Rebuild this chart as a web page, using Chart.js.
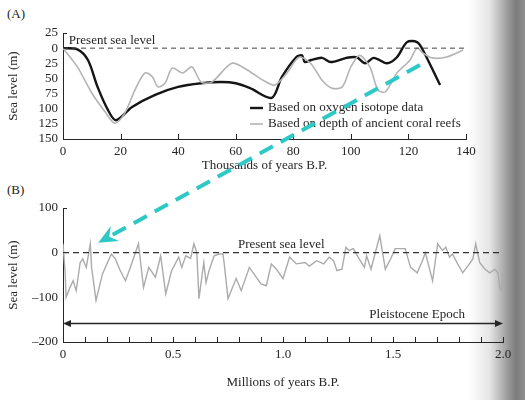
<!DOCTYPE html>
<html>
<head>
<meta charset="utf-8">
<script src="https://cdn.jsdelivr.net/npm/chart.js@4.4.1/dist/chart.umd.min.js"></script>
<style>
  body {
    margin: 0;
    width: 525px;
    height: 400px;
    position: relative;
    overflow: hidden;
    background: linear-gradient(to right, #fff 0, #fff 468px, #e4e4e4 490px, #9a9a9a 508px, #7c7c7c 516px, #8e8e8e 525px);
  }
  canvas { position: absolute; left: 0; }
  .tag { position: absolute; font: 13px "Liberation Serif", serif; color: #222; }
</style>
</head>
<body>
<div class="tag" style="left:7px;top:6px">(A)</div>
<div class="tag" style="left:7px;top:182px">(B)</div>
<canvas id="chartA" width="525" height="178" style="top:0"></canvas>
<canvas id="chartB" width="525" height="222" style="top:178px"></canvas>
<canvas id="overlay" width="525" height="400" style="top:0;pointer-events:none"></canvas>

<script>
// --- panel A: last 140 000 years (negative = below present level) ---
const isotopeAge   = [0, 5, 8.7, 12, 15.6, 18.4, 24, 32, 40, 48, 55, 60, 65, 72.5, 76, 81, 83, 84, 86, 90, 93, 98.5, 102, 105, 108, 112.5, 116, 119.5, 123, 125, 131];
const isotopeLevel = [0, -2, -20, -64, -102, -119, -97, -77, -64, -58, -56, -58, -66, -82, -48, -15, -12, -23, -20, -16, -23, -16, -15, -25, -16, -25, -15, 10, 10, -3, -61];

const reefAge   = [0, 5, 10, 14.6, 18, 21.5, 25, 28.5, 31, 33, 35.4, 38, 41.6, 44.8, 48, 51.7, 58.7, 64, 69.5, 73.6, 77.8, 82, 86, 90, 93.4, 97, 100, 103, 106.6, 109.4, 112, 116, 120.5, 123, 125, 128, 133, 139];
const reefLevel = [0, -31, -74, -105, -124, -107, -69, -41, -47, -64, -58, -33, -41, -31, -56, -56, -25, -36, -53, -61, -41, -15, -25, -53, -66, -64, -31, -12, -31, -69, -72, -41, -20, 0, -8, -16, -15, -3];

const ticksA = [25, 0, -25, -50, -75, -100, -125, -150];

// --- panel B: last 2 million years ---
const pleistoAge = [0, 0.01, 0.014, 0.03, 0.046, 0.06, 0.078, 0.09, 0.106, 0.124, 0.13, 0.15, 0.18, 0.206, 0.22, 0.238, 0.26, 0.284, 0.306, 0.343,
  0.366, 0.39, 0.42, 0.444, 0.467, 0.494, 0.526, 0.54, 0.558, 0.58, 0.595, 0.608, 0.618, 0.64, 0.65, 0.664, 0.687, 0.71, 0.727, 0.733,
  0.75, 0.787, 0.81, 0.847, 0.9, 0.924, 0.947, 0.97, 1.0, 1.03, 1.06, 1.1, 1.12, 1.153, 1.185, 1.21, 1.23, 1.245, 1.268, 1.286,
  1.3, 1.32, 1.345, 1.37, 1.38, 1.4, 1.44, 1.465, 1.49, 1.51, 1.555, 1.58, 1.61, 1.634, 1.647, 1.68, 1.703, 1.725, 1.74, 1.757,
  1.77, 1.794, 1.817, 1.84, 1.863, 1.876, 1.894, 1.918, 1.94, 1.963, 1.977, 1.986, 1.995, 1.997, 2.0];
const pleistoLevel = [20, -47, -100, -80, -63, -85, -22, -14, -33, 20, -33, -107, -47, -18, -3, -14, -40, -63, -33, 20,
  -78, -33, -55, -7, -92, -40, -10, -33, -7, -13, 20, 0, -103, -22, -67, -40, -7, -3, -3, -25,
  -103, -58, -85, -33, -70, -74, -25, -37, -58, -10, -25, -22, -30, -18, -25, -10, -18, -40, -37, 12,
  5, 9, -13, -33, -7, -37, 38, -37, -13, 9, 9, -33, -45, -18, 0, -63, 20, 5, 12, -10,
  -3, -25, -45, -30, -14, 20, -22, -37, -45, -37, -45, -80, -85, -47, -45];

const ticksB = [100, 0, -100, -200];
const epochLevel = -158;          // height of the Pleistocene arrow
const epochLabelAt = 1.61;

// cyan pointer: from a point on panel A to a point on panel B (data units)
const pointerFrom = { x: 124, y: -28 };
const pointerTo = { x: 0.16, y: 22 };

const serif = "'Liberation Serif', 'DejaVu Serif', serif";
const ink = '#262626';

function pts(xs, ys) {
  return xs.map((x, i) => ({ x: x, y: ys[i] }));
}

// ticks drawn pointing into the plot, plus the little cap at the top of the y axis
const innerTicks = {
  id: 'innerTicks',
  afterDraw(chart, args, opts) {
    const ctx = chart.ctx, xs = chart.scales.x, ys = chart.scales.y;
    ctx.save();
    ctx.strokeStyle = ink;
    ctx.lineWidth = 1;
    xs.ticks.forEach(t => {
      if (t.value === xs.min) return;
      const px = Math.round(xs.getPixelForValue(t.value)) + 0.5;
      ctx.beginPath();
      ctx.moveTo(px, xs.top);
      ctx.lineTo(px, xs.top - opts.len);
      ctx.stroke();
    });
    ctx.beginPath();
    ctx.moveTo(ys.right, ys.top + 0.5);
    ctx.lineTo(ys.right + 4, ys.top + 0.5);
    ctx.stroke();
    ctx.restore();
  }
};

// free text placed in data units
const notes = {
  id: 'notes',
  afterDraw(chart, args, opts) {
    const ctx = chart.ctx, xs = chart.scales.x, ys = chart.scales.y;
    ctx.save();
    ctx.fillStyle = ink;
    ctx.font = '13px ' + serif;
    ctx.textBaseline = 'alphabetic';
    (opts.items || []).forEach(n => {
      ctx.textAlign = n.align || 'left';
      ctx.fillText(n.text, xs.getPixelForValue(n.x), ys.getPixelForValue(n.y) - (n.lift || 0));
    });
    ctx.restore();
  }
};

// legend inside panel A
const innerLegend = {
  id: 'innerLegend',
  afterDraw(chart, args, opts) {
    if (!opts.show) return;
    const ctx = chart.ctx, area = chart.chartArea;
    ctx.save();
    ctx.font = '13px ' + serif;
    ctx.textBaseline = 'middle';
    opts.order.forEach((idx, i) => {
      const d = chart.data.datasets[idx];
      const y = area.top + opts.top + i * 16;
      const x = area.left + opts.left;
      ctx.strokeStyle = d.borderColor;
      ctx.lineWidth = d.borderWidth;
      ctx.beginPath();
      ctx.moveTo(x, y);
      ctx.lineTo(x + 13, y);
      ctx.stroke();
      ctx.fillStyle = ink;
      ctx.fillText(d.label, x + 18, y);
    });
    ctx.restore();
  }
};

// double headed Pleistocene arrow in panel B
const epochArrow = {
  id: 'epochArrow',
  afterDraw(chart, args, opts) {
    if (!opts.show) return;
    const ctx = chart.ctx, xs = chart.scales.x, ys = chart.scales.y;
    const y = Math.round(ys.getPixelForValue(epochLevel)) + 0.5;
    const l = xs.getPixelForValue(xs.min), r = xs.getPixelForValue(xs.max);
    ctx.save();
    ctx.strokeStyle = ink;
    ctx.fillStyle = ink;
    ctx.lineWidth = 1.3;
    ctx.beginPath(); ctx.moveTo(l + 4, y); ctx.lineTo(r - 4, y); ctx.stroke();
    ctx.beginPath(); ctx.moveTo(l, y); ctx.lineTo(l + 8, y - 3.5); ctx.lineTo(l + 8, y + 3.5); ctx.closePath(); ctx.fill();
    ctx.beginPath(); ctx.moveTo(r, y); ctx.lineTo(r - 8, y - 3.5); ctx.lineTo(r - 8, y + 3.5); ctx.closePath(); ctx.fill();
    ctx.font = '13px ' + serif;
    ctx.textAlign = 'center';
    ctx.fillText('Pleistocene Epoch', xs.getPixelForValue(epochLabelAt), y - 6);
    ctx.restore();
  }
};

Chart.register(innerTicks, notes, innerLegend, epochArrow);

function yAxis(min, max, values, width) {
  return {
    type: 'linear', min: min, max: max,
    afterFit(s) { s.width = width; },
    afterBuildTicks(s) { s.ticks = values.map(v => ({ value: v })); },
    grid: { display: false, drawTicks: false, tickLength: 0 },
    border: { display: true, color: ink, width: 1 },
    ticks: {
      autoSkip: false, color: ink, padding: 5, font: { family: serif, size: 13 },
      callback: v => (min < -160 ? String(v).replace('-', '\u2013') : String(Math.abs(v)))
    },
    title: { display: true, text: 'Sea level (m)', color: ink, font: { family: serif, size: 13 }, padding: { top: 6, bottom: 0 } }
  };
}

function xAxis(max, step, height, text, titleBottom, label) {
  return {
    type: 'linear', min: 0, max: max,
    afterFit(s) { s.height = height; },
    grid: { display: false, drawTicks: false, tickLength: 0 },
    border: { display: true, color: ink, width: 1 },
    ticks: { stepSize: step, autoSkip: false, maxRotation: 0, color: ink, padding: 5, font: { family: serif, size: 13 }, callback: label },
    title: { display: true, text: text, color: ink, font: { family: serif, size: 13 }, padding: { top: 0, bottom: titleBottom } }
  };
}

const chartA = new Chart(document.getElementById('chartA'), {
  type: 'line',
  data: {
    datasets: [
      { label: 'Present sea level', data: pts([0, 140], [0, 0]), borderColor: '#444', borderWidth: 1, borderDash: [5, 4], pointRadius: 0 },
      { label: 'Based on depth of ancient coral reefs', data: pts(reefAge, reefLevel), borderColor: '#b4b4b4', borderWidth: 1.6, tension: 0.3, pointRadius: 0 },
      { label: 'Based on oxygen isotope data', data: pts(isotopeAge, isotopeLevel), borderColor: '#151515', borderWidth: 2.4, tension: 0.3, pointRadius: 0 }
    ]
  },
  options: {
    responsive: false, animation: false, events: [],
    layout: { padding: { top: 33, right: 59, left: 0, bottom: 0 } },
    scales: {
      x: xAxis(140, 20, 39, 'Thousands of years B.P.', 5, v => String(v)),
      y: yAxis(-150, 25, ticksA, 63)
    },
    plugins: {
      legend: { display: false },
      tooltip: { enabled: false },
      innerTicks: { len: 5 },
      notes: { items: [{ text: 'Present sea level', x: 2, y: 0, lift: 4 }] },
      innerLegend: { show: true, left: 187, top: 75, order: [2, 1] },
      epochArrow: { show: false }
    }
  }
});

const chartB = new Chart(document.getElementById('chartB'), {
  type: 'line',
  data: {
    datasets: [
      { label: 'Present sea level', data: pts([0, 2], [0, 0]), borderColor: '#333', borderWidth: 1.1, borderDash: [6, 4], pointRadius: 0 },
      { label: 'Sea level', data: pts(pleistoAge, pleistoLevel), borderColor: '#ababab', borderWidth: 1.4, tension: 0, pointRadius: 0 }
    ]
  },
  options: {
    responsive: false, animation: false, events: [],
    layout: { padding: { top: 30, right: 22, left: 0, bottom: 0 } },
    scales: {
      x: xAxis(2, 0.1, 58, 'Millions of years B.P.', 10, v => {
        const k = Math.round(v * 10);
        if (k % 5 !== 0) return '';
        return k === 0 ? '0' : (k / 10).toFixed(1);
      }),
      y: yAxis(-200, 100, ticksB, 63)
    },
    plugins: {
      legend: { display: false },
      tooltip: { enabled: false },
      innerTicks: { len: 5 },
      notes: { items: [{ text: 'Present sea level', x: 0.795, y: 0, lift: 5 }] },
      innerLegend: { show: false },
      epochArrow: { show: true }
    }
  }
});

// cyan dashed pointer drawn over both panels
(function () {
  const ctx = document.getElementById('overlay').getContext('2d');
  const x0 = chartA.scales.x.getPixelForValue(pointerFrom.x);
  const y0 = chartA.scales.y.getPixelForValue(pointerFrom.y);
  const x1 = chartB.scales.x.getPixelForValue(pointerTo.x);
  const y1 = chartB.scales.y.getPixelForValue(pointerTo.y) + 178;
  const ang = Math.atan2(y1 - y0, x1 - x0);
  const head = 21;
  ctx.strokeStyle = '#2ec8c6';
  ctx.fillStyle = '#2ec8c6';
  ctx.lineWidth = 4;
  ctx.setLineDash([15, 9]);
  ctx.beginPath();
  ctx.moveTo(x0, y0);
  ctx.lineTo(x1 - head * 0.6 * Math.cos(ang), y1 - head * 0.6 * Math.sin(ang));
  ctx.stroke();
  ctx.setLineDash([]);
  ctx.beginPath();
  ctx.moveTo(x1, y1);
  ctx.lineTo(x1 - head * Math.cos(ang - 0.42), y1 - head * Math.sin(ang - 0.42));
  ctx.lineTo(x1 - head * 0.6 * Math.cos(ang), y1 - head * 0.6 * Math.sin(ang));
  ctx.lineTo(x1 - head * Math.cos(ang + 0.42), y1 - head * Math.sin(ang + 0.42));
  ctx.closePath();
  ctx.fill();
})();
</script>
</body>
</html>
